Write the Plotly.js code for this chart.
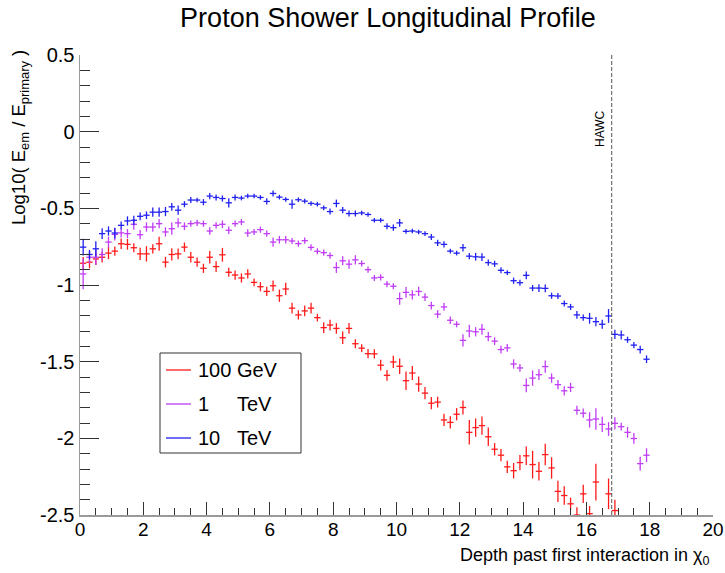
<!DOCTYPE html>
<html>
<head>
<meta charset="utf-8">
<script src="https://cdn.plot.ly/plotly-3.0.1.min.js"></script>
<style>html,body{margin:0;padding:0;background:#fff;}#chart{width:725px;height:573px;}</style>
</head>
<body>
<div id="chart"></div>
<script>
// Bin centres (depth past first interaction, in radiation lengths)
const depth = [0.1,0.3,0.5,0.7,0.9,1.1,1.3,1.5,1.7,1.9,2.1,2.3,2.5,2.7,2.9,3.1,3.3,3.5,3.7,3.9,
  4.1,4.3,4.5,4.7,4.9,5.1,5.3,5.5,5.7,5.9,6.1,6.3,6.5,6.7,6.9,7.1,7.3,7.5,7.7,7.9,
  8.1,8.3,8.5,8.7,8.9,9.1,9.3,9.5,9.7,9.9,10.1,10.3,10.5,10.7,10.9,11.1,11.3,11.5,11.7,11.9,
  12.1,12.3,12.5,12.7,12.9,13.1,13.3,13.5,13.7,13.9,14.1,14.3,14.5,14.7,14.9,15.1,15.3,15.5,15.7,15.9,
  16.1,16.3,16.5,16.7,16.9,17.1,17.3,17.5,17.7,17.9];
const binHalfWidth = 0.1;

// 100 GeV
const gev100 = [-0.858,-0.851,-0.830,-0.819,-0.792,-0.779,-0.731,-0.735,-0.757,-0.797,
  -0.797,-0.764,-0.731,-0.851,-0.801,-0.797,-0.753,-0.819,-0.851,-0.891,
  -0.819,-0.880,-0.803,-0.917,-0.935,-0.954,-0.928,-0.983,-1.011,-1.042,
  -1.005,-1.070,-1.026,-1.151,-1.195,-1.169,-1.151,-1.213,-1.278,-1.261,
  -1.283,-1.344,-1.283,-1.383,-1.412,-1.448,-1.449,-1.523,-1.589,-1.502,
  -1.530,-1.624,-1.574,-1.646,-1.705,-1.771,-1.764,-1.880,-1.896,-1.843,
  -1.799,-1.961,-1.930,-1.917,-1.990,-2.071,-2.110,-2.186,-2.211,-2.158,
  -2.114,-2.171,-2.215,-2.106,-2.193,-2.346,-2.373,-2.427,-2.500,-2.362,
  -2.491,-2.285,null,-2.362,-2.471];
const gev100Err = [0.04,0.04,0.04,0.035,0.04,0.03,0.035,0.035,0.03,0.04,
  0.05,0.03,0.045,0.035,0.04,0.035,0.03,0.035,0.03,0.03,
  0.04,0.035,0.045,0.03,0.03,0.03,0.03,0.025,0.03,0.03,
  0.035,0.04,0.04,0.035,0.03,0.035,0.035,0.025,0.035,0.035,
  0.035,0.04,0.035,0.03,0.025,0.03,0.03,0.035,0.035,0.04,
  0.05,0.06,0.045,0.05,0.04,0.04,0.035,0.04,0.04,0.04,
  0.045,0.08,0.06,0.06,0.06,0.04,0.04,0.04,0.05,0.05,
  0.06,0.09,0.06,0.07,0.07,0.07,0.06,0.04,0.05,0.06,
  0.05,0.12,null,0.1,0.07];

// 1 TeV
const tev1 = [-0.928,-0.819,-0.819,-0.801,-0.720,-0.670,-0.660,-0.665,-0.604,-0.672,
  -0.622,-0.622,-0.600,-0.654,-0.633,-0.595,-0.617,-0.600,-0.595,-0.600,
  -0.648,-0.611,-0.604,-0.643,-0.600,-0.589,-0.661,-0.654,-0.639,-0.665,
  -0.720,-0.705,-0.705,-0.713,-0.730,-0.711,-0.755,-0.780,-0.789,-0.808,
  -0.886,-0.842,-0.864,-0.836,-0.860,-0.900,-0.954,-0.950,-0.994,-1.008,
  -1.089,-1.048,-1.064,-1.042,-1.079,-1.134,-1.190,-1.143,-1.230,-1.256,
  -1.361,-1.300,-1.305,-1.289,-1.337,-1.366,-1.421,-1.410,-1.515,-1.541,
  -1.655,-1.607,-1.585,-1.532,-1.607,-1.650,-1.690,-1.668,-1.817,-1.836,
  -1.880,-1.874,-1.909,-1.939,-1.902,-1.924,-1.961,-2.001,-2.165,-2.110];
const tev1Err = [0.1,0.04,0.05,0.04,0.035,0.04,0.03,0.03,0.035,0.03,
  0.03,0.03,0.03,0.03,0.04,0.03,0.025,0.02,0.02,0.02,
  0.025,0.02,0.025,0.025,0.02,0.02,0.025,0.02,0.02,0.02,
  0.03,0.025,0.025,0.02,0.02,0.02,0.02,0.02,0.02,0.02,
  0.035,0.03,0.03,0.03,0.02,0.02,0.02,0.02,0.02,0.02,
  0.04,0.035,0.03,0.03,0.025,0.025,0.025,0.025,0.025,0.02,
  0.04,0.04,0.03,0.035,0.03,0.025,0.025,0.025,0.03,0.025,
  0.045,0.05,0.035,0.04,0.03,0.03,0.03,0.03,0.03,0.03,
  0.05,0.07,0.05,0.045,0.04,0.025,0.035,0.035,0.045,0.045];

// 10 TeV
const tev10 = [-0.753,-0.801,-0.764,-0.665,-0.648,-0.661,-0.611,-0.582,-0.578,-0.552,
  -0.545,-0.525,-0.525,-0.521,-0.490,-0.512,-0.473,-0.446,-0.446,-0.460,
  -0.420,-0.429,-0.436,-0.464,-0.429,-0.433,-0.420,-0.420,-0.429,-0.455,
  -0.403,-0.427,-0.442,-0.473,-0.444,-0.453,-0.468,-0.473,-0.497,-0.521,
  -0.468,-0.512,-0.534,-0.534,-0.530,-0.540,-0.578,-0.578,-0.617,-0.626,
  -0.595,-0.650,-0.648,-0.654,-0.665,-0.687,-0.725,-0.735,-0.779,-0.792,
  -0.757,-0.812,-0.816,-0.818,-0.854,-0.862,-0.904,-0.919,-0.972,-0.985,
  -0.937,-1.020,-1.020,-1.022,-1.070,-1.072,-1.121,-1.143,-1.195,-1.213,
  -1.217,-1.239,-1.256,-1.202,-1.322,-1.326,-1.357,-1.392,-1.421,-1.484];
const tev10Err = [0.055,0.03,0.05,0.035,0.03,0.035,0.025,0.03,0.03,0.025,
  0.025,0.03,0.03,0.03,0.025,0.03,0.02,0.02,0.015,0.02,
  0.02,0.02,0.02,0.03,0.02,0.015,0.015,0.015,0.015,0.02,
  0.02,0.015,0.015,0.03,0.015,0.015,0.015,0.015,0.015,0.02,
  0.025,0.02,0.02,0.02,0.015,0.015,0.015,0.015,0.02,0.02,
  0.025,0.015,0.015,0.015,0.015,0.02,0.02,0.02,0.015,0.015,
  0.025,0.02,0.025,0.025,0.02,0.02,0.02,0.015,0.02,0.02,
  0.025,0.02,0.025,0.025,0.02,0.02,0.02,0.02,0.025,0.02,
  0.035,0.03,0.03,0.045,0.03,0.03,0.02,0.02,0.025,0.025];

const seriesNames = ['100 GeV', '1\u00a0\u00a0\u00a0\u00a0\u00a0TeV', '10\u00a0\u00a0\u00a0TeV'];
const seriesColors = ['#ff1a1a', '#c03cf5', '#2020f0'];
const hawcDepth = 16.8;
const xTicks = [0,2,4,6,8,10,12,14,16,18,20];
const xTickText = ['0','2','4','6','8','10','12','14','16','18','20'];
const yTicks = [0.5,0,-0.5,-1,-1.5,-2,-2.5];
const yTickText = ['0.5','0','-0.5','-1','-1.5','-2','-2.5'];

const FONT = 'Liberation Sans, Arial, Helvetica, sans-serif';
const L = 80, R = 12, T = 55, B = 58, W = 725, H = 573;
const PW = W - L - R, PH = H - T - B;
const px = v => (v - L) / PW;
const py = v => (H - B - v) / PH;

function mk(y, err, color) {
  return {
    type: 'scatter', mode: 'markers', x: depth.slice(0, y.length), y: y,
    marker: {size: 2, color: color, opacity: 0},
    error_x: {type: 'constant', value: binHalfWidth, width: 0, thickness: 1.3, color: color},
    error_y: {type: 'data', array: err, width: 0, thickness: 1.3, color: color},
    showlegend: false, hoverinfo: 'x+y'
  };
}
const data = [
  mk(gev100, gev100Err, seriesColors[0]),
  mk(tev1, tev1Err, seriesColors[1]),
  mk(tev10, tev10Err, seriesColors[2])
];

const legendY = [370, 404, 438];
const shapes = [
  {type: 'line', xref: 'x', yref: 'paper', x0: hawcDepth, x1: hawcDepth, y0: 0, y1: 1,
   line: {color: '#555', width: 1, dash: '4px,2px'}},
  {type: 'rect', xref: 'paper', yref: 'paper', x0: px(160), x1: px(301), y0: py(453), y1: py(353),
   line: {color: '#333', width: 1}, fillcolor: 'rgba(255,255,255,1)'}
];
const annotations = [
  {xref: 'x', yref: 'paper', x: 16.43, y: py(129), xanchor: 'center', yanchor: 'middle',
   text: 'HAWC', textangle: -90, showarrow: false,
   font: {family: FONT, size: 12, color: '#000'}},
  {xref: 'paper', yref: 'paper', x: px(20), y: py(138), xanchor: 'center', yanchor: 'middle',
   text: 'Log10( E<sub>em</sub> / E<sub>primary</sub> )',
   textangle: -90, showarrow: false, font: {family: FONT, size: 18.5, color: '#000'}},
  {xref: 'paper', yref: 'paper', x: px(712), y: py(556), xanchor: 'right', yanchor: 'middle',
   text: 'Depth past first interaction in χ<sub>0</sub>', showarrow: false,
   font: {family: FONT, size: 18, color: '#000'}}
];
for (let i = 0; i < 3; i++) {
  shapes.push({type: 'line', xref: 'paper', yref: 'paper', x0: px(166), x1: px(191),
    y0: py(legendY[i]), y1: py(legendY[i]), line: {color: seriesColors[i], width: 1.3}});
  annotations.push({xref: 'paper', yref: 'paper', x: px(196), y: py(legendY[i]), xanchor: 'left',
    yanchor: 'middle', text: seriesNames[i], showarrow: false,
    font: {family: FONT, size: 20, color: '#000'}});
}

const layout = {
  width: W, height: H,
  margin: {l: L, r: R, t: T, b: B, pad: 0},
  paper_bgcolor: '#fff', plot_bgcolor: '#fff',
  font: {family: FONT, size: 20, color: '#000'},
  title: {text: 'Proton Shower Longitudinal Profile', x: 388 / W, xanchor: 'center',
          y: 1 - 18 / H, yanchor: 'middle', yref: 'container',
          font: {family: FONT, size: 27, color: '#000'}},
  xaxis: {range: [0, 20], tickmode: 'array', tickvals: xTicks, ticktext: xTickText,
          ticks: 'inside', ticklen: 13, tickcolor: '#333', tickwidth: 1, ticklabelstandoff: -3,
          minor: {tickmode: 'linear', tick0: 0, dtick: 0.5, ticks: 'inside', ticklen: 7, tickcolor: '#333', tickwidth: 1},
          showline: true, linecolor: '#9a9a9a', linewidth: 1.5, mirror: false,
          showgrid: false, zeroline: false, tickfont: {family: FONT, size: 19, color: '#000'}},
  yaxis: {range: [-2.5, 0.5], tickmode: 'array', tickvals: yTicks, ticktext: yTickText,
          ticks: 'inside', ticklen: 19, tickcolor: '#333', tickwidth: 1,
          minor: {tickmode: 'linear', tick0: 0, dtick: 0.1, ticks: 'inside', ticklen: 10, tickcolor: '#333', tickwidth: 1},
          showline: true, linecolor: '#9a9a9a', linewidth: 1.5, mirror: false,
          showgrid: false, zeroline: false, tickfont: {family: FONT, size: 20, color: '#000'}},
  shapes: shapes,
  annotations: annotations,
  showlegend: false
};

Plotly.newPlot('chart', data, layout, {staticPlot: true, displayModeBar: false});
</script>
</body>
</html>
